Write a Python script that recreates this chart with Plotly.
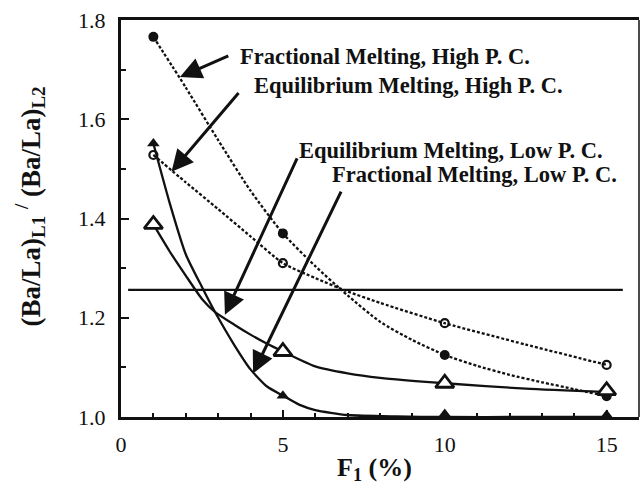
import plotly.graph_objects as go

# Melt fraction F1 (%) at which the ratios were computed
f1 = [1, 5, 10, 15]

# (Ba/La)_L1 / (Ba/La)_L2 at each melt fraction
frac_high = [1.766, 1.370, 1.125, 1.042]   # fractional melting, high P. C.
equil_high = [1.528, 1.310, 1.189, 1.105]  # equilibrium melting, high P. C.
equil_low = [1.388, 1.132, 1.068, 1.053]   # equilibrium melting, low P. C.
frac_low = [1.551, 1.043, 1.006, 1.004]    # fractional melting, low P. C.

# Model curves joining the computed points
frac_high_cx = [1, 2, 3, 4, 5, 6, 7, 8, 9, 10, 11, 12, 13, 14, 15]
frac_high_cy = [1.766, 1.664, 1.558, 1.456, 1.370, 1.304, 1.245, 1.192, 1.155, 1.125,
                1.103, 1.085, 1.070, 1.056, 1.042]

equil_high_cx = [1, 2, 3, 4, 5, 6, 7, 8, 10, 12.5, 15]
equil_high_cy = [1.528, 1.473, 1.419, 1.364, 1.310, 1.280, 1.253, 1.230, 1.189, 1.146, 1.105]

frac_low_cx = [1, 1.5, 2, 2.5, 2.9, 3.5, 4, 4.5, 5, 5.5, 6, 7, 8.5, 10, 12.5, 15]
frac_low_cy = [1.551, 1.432, 1.328, 1.262, 1.212, 1.145, 1.096, 1.062, 1.043, 1.025,
               1.014, 1.004, 1.001, 1.0, 1.0, 1.0]

equil_low_cx = [1, 1.5, 2, 2.5, 2.9, 3.5, 4, 4.5, 5, 6, 7, 8, 10, 12.5, 15]
equil_low_cy = [1.388, 1.334, 1.285, 1.238, 1.212, 1.186, 1.166, 1.148, 1.132, 1.102,
                1.088, 1.079, 1.068, 1.057, 1.050]

# Reference ratio line
ref_x = [0.22, 15.5]
ref_y = [1.256, 1.256]

# Curve labels: text, text anchor (x, y), arrow tail (x, y), arrow head (x, y)
labels = [
    "Fractional Melting, High P. C.",
    "Equilibrium Melting, High P. C.",
    "Equilibrium Melting, Low P. C.",
    "Fractional Melting, Low P. C.",
]
label_x = [3.61, 4.05, 5.44, 6.46]
label_y = [1.727, 1.669, 1.538, 1.488]
tail_x = [3.36, 3.67, 5.46, 6.82]
tail_y = [1.729, 1.656, 1.524, 1.457]
head_x = [1.82, 1.56, 3.21, 4.08]
head_y = [1.685, 1.494, 1.206, 1.088]

SERIF = "Liberation Serif"
BLACK = "#111111"

fig = go.Figure()

dotted = "3px,2px"
fig.add_trace(go.Scatter(x=frac_high_cx, y=frac_high_cy, mode="lines",
                         line=dict(color=BLACK, width=2.3, dash=dotted, shape="spline", smoothing=0.6)))
fig.add_trace(go.Scatter(x=equil_high_cx, y=equil_high_cy, mode="lines",
                         line=dict(color=BLACK, width=2.3, dash=dotted, shape="spline", smoothing=0.6)))
fig.add_trace(go.Scatter(x=frac_low_cx, y=frac_low_cy, mode="lines",
                         line=dict(color=BLACK, width=2.3, shape="spline", smoothing=0.6)))
fig.add_trace(go.Scatter(x=equil_low_cx, y=equil_low_cy, mode="lines",
                         line=dict(color=BLACK, width=2.3, shape="spline", smoothing=0.6)))
fig.add_trace(go.Scatter(x=ref_x, y=ref_y, mode="lines",
                         line=dict(color=BLACK, width=2.2)))

fig.add_trace(go.Scatter(x=f1, y=frac_high, mode="markers",
                         marker=dict(symbol="circle", size=10, color=BLACK)))
fig.add_trace(go.Scatter(x=f1, y=equil_high, mode="markers",
                         marker=dict(symbol="circle-open", size=8, color=BLACK, line=dict(width=2.2))))
fig.add_trace(go.Scatter(x=f1, y=equil_low, mode="markers",
                         marker=dict(symbol="triangle-up", size=16, color="white",
                                     line=dict(color=BLACK, width=2.8))))
fig.add_trace(go.Scatter(x=f1, y=frac_low, mode="markers",
                         marker=dict(symbol="triangle-up", size=11, color=BLACK)))

for t, lx, ly in zip(labels, label_x, label_y):
    fig.add_annotation(x=lx, y=ly, xref="x", yref="y", text="<b>" + t + "</b>", showarrow=False,
                       xanchor="left", yanchor="middle",
                       font=dict(family=SERIF, size=22.5, color=BLACK), bgcolor="rgba(0,0,0,0)")

for tx, ty, hx, hy in zip(tail_x, tail_y, head_x, head_y):
    fig.add_annotation(x=hx, y=hy, ax=tx, ay=ty, xref="x", yref="y", axref="x", ayref="y",
                       text="", showarrow=True, arrowhead=2, arrowsize=1.45, arrowwidth=3,
                       arrowcolor=BLACK, standoff=0, startstandoff=0)

# Axis titles
fig.add_annotation(xref="paper", yref="paper", x=-0.176, y=0.53,
                   text="<b>(Ba/La)<sub>L1</sub> <sup>/</sup> (Ba/La)<sub>L2</sub></b>",
                   textangle=-90, showarrow=False, xanchor="center", yanchor="middle",
                   font=dict(family=SERIF, size=27, color=BLACK))
fig.add_annotation(xref="paper", yref="paper", x=0.49, y=-0.13,
                   text="<b>F<sub>1</sub> (%)</b>", showarrow=False,
                   xanchor="center", yanchor="middle",
                   font=dict(family=SERIF, size=26, color=BLACK))

# Thin right-hand frame edge
fig.add_shape(type="line", xref="paper", yref="paper", x0=1, x1=1, y0=0, y1=1,
              line=dict(color=BLACK, width=1.5))

fig.update_layout(
    width=640, height=504,
    margin=dict(l=121, r=1, t=20, b=87),
    paper_bgcolor="white", plot_bgcolor="white",
    showlegend=False,
    font=dict(family=SERIF, size=22, color=BLACK),
)
fig.update_xaxes(range=[0, 16], tickvals=[0, 5, 10, 15], ticktext=["0", "5", "10", "15"],
                 ticks="inside", ticklen=7, tickwidth=2, tickcolor=BLACK,
                 minor=dict(dtick=1, tick0=0, ticks="inside", ticklen=4, tickwidth=1.5, tickcolor=BLACK),
                 showline=True, linewidth=3, linecolor=BLACK, mirror=True,
                 showgrid=False, zeroline=False, ticklabelstandoff=6,
                 tickfont=dict(family=SERIF, size=22, color=BLACK))
fig.update_yaxes(range=[1.0, 1.8], tickvals=[1.0, 1.2, 1.4, 1.6, 1.8],
                 ticktext=["1.0", "1.2", "1.4", "1.6", "1.8"],
                 ticks="inside", ticklen=8, tickwidth=2, tickcolor=BLACK,
                 minor=dict(dtick=0.1, tick0=1.0, ticks="inside", ticklen=5, tickwidth=1.5, tickcolor=BLACK),
                 showline=True, linewidth=3, linecolor=BLACK,
                 showgrid=False, zeroline=False, ticklabelstandoff=8,
                 tickfont=dict(family=SERIF, size=22, color=BLACK))

fig.write_html("out.html")
